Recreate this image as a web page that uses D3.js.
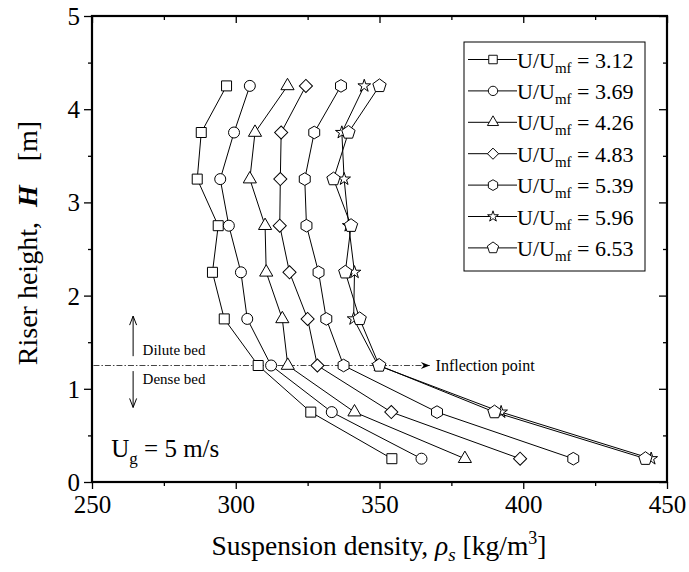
<!DOCTYPE html>
<html>
<head>
<meta charset="utf-8">
<script src="https://cdn.jsdelivr.net/npm/d3@7"></script>
<style>
	body { margin: 0; background: #fff; }
	text { font-family: "Liberation Serif", "DejaVu Serif", serif; fill: #000; }
</style>
</head>
<body>
<div id="wrapper"></div>
<script>
// Data: riser height H [m] and suspension density [kg/m3] per U/Umf
const heights = [0.25, 0.75, 1.25, 1.75, 2.25, 2.75, 3.25, 3.75, 4.25]
const ratios = ['3.12', '3.69', '4.26', '4.83', '5.39', '5.96', '6.53']
const rho312 = [354.3, 326.1, 307.8, 296.0, 291.9, 293.9, 286.6, 288.0, 296.8]
const rho369 = [364.6, 333.4, 312.3, 304.0, 301.8, 297.6, 294.6, 299.4, 304.9]
const rho426 = [379.7, 341.3, 318.1, 316.2, 310.6, 310.2, 304.9, 306.7, 318.0]
const rho483 = [398.9, 354.1, 328.4, 325.0, 318.7, 315.3, 315.5, 315.8, 324.4]
const rho539 = [417.4, 370.0, 337.5, 331.5, 328.8, 324.6, 324.0, 327.3, 336.6]
const rho596 = [444.5, 392.3, 349.5, 341.0, 341.3, 339.3, 337.7, 336.9, 344.7]
const rho653 = [442.5, 390.0, 349.9, 343.1, 338.1, 340.1, 334.0, 339.2, 350.0]
const seriesValues = [rho312, rho369, rho426, rho483, rho539, rho596, rho653]
const markerNames = ['square', 'circle', 'triangle', 'diamond', 'hexagon', 'star', 'pentagon']
const xTicks = [250, 300, 350, 400, 450]
const xMinorTicks = [275, 325, 375, 425]
const yTicks = [0, 1, 2, 3, 4, 5]
const yMinorTicks = [0.5, 1.5, 2.5, 3.5, 4.5]

function drawPlot() {
	const xAccessor = d => d.rho
	const yAccessor = d => d.h

	let dimensions = {
		width: 689,
		height: 572,
		margin: { top: 16, right: 22, bottom: 90, left: 92 }
	}
	dimensions.boundedWidth = dimensions.width - dimensions.margin.left - dimensions.margin.right
	dimensions.boundedHeight = dimensions.height - dimensions.margin.top - dimensions.margin.bottom

	const wrapper = d3.select('#wrapper')
		.append('svg')
			.attr('width', dimensions.width)
			.attr('height', dimensions.height)

	const bounds = wrapper.append('g')
		.attr('transform', `translate(${dimensions.margin.left},${dimensions.margin.top})`)

	// Scales
	const xScale = d3.scaleLinear()
		.domain([250, 450])
		.range([0, dimensions.boundedWidth])
	const yScale = d3.scaleLinear()
		.domain([0, 5])
		.range([dimensions.boundedHeight, 0])

	// Marker shapes
	const polygon = (n, r) => {
		const pts = d3.range(n).map(i => {
			const a = -Math.PI / 2 + i * 2 * Math.PI / n
			return [r * Math.cos(a), r * Math.sin(a)]
		})
		return d3.line()(pts) + 'Z'
	}
	const shapes = {
		square: d3.symbol(d3.symbolSquare, 100)(),
		circle: d3.symbol(d3.symbolCircle, 95)(),
		triangle: d3.symbol(d3.symbolTriangle, 75)(),
		diamond: d3.symbol(d3.symbolSquare, 86)(),
		hexagon: polygon(6, 6.3),
		star: d3.symbol(d3.symbolStar, 50)(),
		pentagon: polygon(5, 7)
	}
	const shapeRotate = name => name === 'diamond' ? ' rotate(45)' : ''

	// Axes: ticks all point down / left like the original
	const axisStyle = g => {
		g.select('.domain').remove()
		g.selectAll('line').attr('stroke', '#000').attr('stroke-width', 1.3)
		g.selectAll('text').attr('font-size', 25)
	}
	const xMajor = (showLabels) => d3.axisBottom(xScale).tickValues(xTicks).tickSize(7).tickPadding(3)
		.tickFormat(showLabels ? d3.format('d') : '')
	const xMinor = d3.axisBottom(xScale).tickValues(xMinorTicks).tickSize(4).tickFormat('')
	const yMajor = (showLabels) => d3.axisLeft(yScale).tickValues(yTicks).tickSize(8).tickPadding(4)
		.tickFormat(showLabels ? d3.format('d') : '')
	const yMinor = d3.axisLeft(yScale).tickValues(yMinorTicks).tickSize(4).tickFormat('')

	const xAxis = bounds.append('g').attr('transform', `translate(0,${dimensions.boundedHeight})`).call(xMajor(true)).call(axisStyle)
	bounds.append('g').attr('transform', `translate(0,${dimensions.boundedHeight})`).call(xMinor).call(axisStyle)
	bounds.append('g').call(xMajor(false)).call(axisStyle)
	bounds.append('g').call(xMinor).call(axisStyle)
	const yAxis = bounds.append('g').call(yMajor(true)).call(axisStyle)
	bounds.append('g').call(yMinor).call(axisStyle)
	bounds.append('g').attr('transform', `translate(${dimensions.boundedWidth},0)`).call(yMajor(false)).call(axisStyle)
	bounds.append('g').attr('transform', `translate(${dimensions.boundedWidth},0)`).call(yMinor).call(axisStyle)

	xAxis.selectAll('.tick text').attr('dy', null).attr('y', 31)
	yAxis.selectAll('.tick text').attr('dy', '0.34em')

	// Frame
	bounds.append('rect')
		.attr('width', dimensions.boundedWidth)
		.attr('height', dimensions.boundedHeight)
		.attr('fill', 'none')
		.attr('stroke', '#000')
		.attr('stroke-width', 2.2)

	// Annotation: dilute / dense bed and inflection point
	const defs = wrapper.append('defs')
	defs.append('marker')
		.attr('id', 'openArrow')
		.attr('viewBox', '-10 -5 12 10')
		.attr('markerWidth', 12).attr('markerHeight', 10)
		.attr('markerUnits', 'userSpaceOnUse')
		.attr('orient', 'auto')
		.append('path')
			.attr('d', 'M-9,-3.5L0,0L-9,3.5')
			.attr('fill', 'none')
			.attr('stroke', '#000')
			.attr('stroke-width', 1)
	defs.append('marker')
		.attr('id', 'inflArrow')
		.attr('viewBox', '-10 -5 12 10')
		.attr('markerWidth', 12).attr('markerHeight', 10)
		.attr('markerUnits', 'userSpaceOnUse')
		.attr('orient', 'auto')
		.append('path')
			.attr('d', 'M-9,-3.5L0,0L-9,3.5L-6,0Z')
			.attr('fill', '#000')

	bounds.append('line')
		.attr('x1', xScale(250.5)).attr('x2', xScale(367.5))
		.attr('y1', yScale(1.25)).attr('y2', yScale(1.25))
		.attr('stroke', '#444')
		.attr('stroke-width', 1)
		.attr('stroke-dasharray', '6,2,1.5,2')
		.attr('marker-end', 'url(#inflArrow)')
	bounds.append('text')
		.attr('x', xScale(369.5)).attr('y', yScale(1.25) + 5)
		.attr('font-size', 16)
		.text('Inflection point')

	bounds.append('line')
		.attr('x1', xScale(264.3)).attr('x2', xScale(264.3))
		.attr('y1', yScale(1.35)).attr('y2', yScale(1.78))
		.attr('stroke', '#000').attr('stroke-width', 1)
		.attr('marker-end', 'url(#openArrow)')
	bounds.append('line')
		.attr('x1', xScale(264.3)).attr('x2', xScale(264.3))
		.attr('y1', yScale(1.19)).attr('y2', yScale(0.8))
		.attr('stroke', '#000').attr('stroke-width', 1)
		.attr('marker-end', 'url(#openArrow)')
	bounds.append('text')
		.attr('x', xScale(267.6)).attr('y', yScale(1.36))
		.attr('font-size', 15)
		.text('Dilute bed')
	bounds.append('text')
		.attr('x', xScale(267.6)).attr('y', yScale(1.05))
		.attr('font-size', 15)
		.text('Dense bed')

	const ugLabel = bounds.append('text')
		.attr('x', xScale(256.7)).attr('y', yScale(0.27))
		.attr('font-size', 25)
	ugLabel.append('tspan').text('U')
	ugLabel.append('tspan').attr('font-size', 17).attr('dy', 7).text('g')
	ugLabel.append('tspan').attr('dy', -7).text(' = 5 m/s')

	// Series
	const lineGenerator = d3.line()
		.x(d => xScale(xAccessor(d)))
		.y(d => yScale(yAccessor(d)))

	seriesValues.forEach((vals, i) => {
		const data = vals.map((v, j) => ({ rho: v, h: heights[j] }))
		const g = bounds.append('g')
		g.append('path')
			.datum(data)
			.attr('d', lineGenerator)
			.attr('fill', 'none')
			.attr('stroke', '#000')
			.attr('stroke-width', 1)
		g.selectAll('path.pt')
			.data(data)
			.join('path')
				.attr('class', 'pt')
				.attr('d', shapes[markerNames[i]])
				.attr('transform', d => `translate(${xScale(xAccessor(d))},${yScale(yAccessor(d))})` + shapeRotate(markerNames[i]))
				.attr('fill', '#fff')
				.attr('stroke', '#000')
				.attr('stroke-width', 1)
	})

	// Legend
	const legend = wrapper.append('g')
		.attr('transform', 'translate(464,42)')
	const rowStep = 31.4
	legend.append('rect')
		.attr('width', 181)
		.attr('height', 229)
		.attr('fill', '#fff')
		.attr('stroke', '#000')
		.attr('stroke-width', 1)
	ratios.forEach((r, i) => {
		const row = legend.append('g')
			.attr('transform', `translate(0,${17.5 + i * rowStep})`)
		row.append('line')
			.attr('x1', 4).attr('x2', 53)
			.attr('stroke', '#000').attr('stroke-width', 1)
		row.append('path')
			.attr('d', shapes[markerNames[i]])
			.attr('transform', 'translate(29,0) scale(0.85)' + shapeRotate(markerNames[i]))
			.attr('fill', '#fff')
			.attr('stroke', '#000')
			.attr('stroke-width', 1.1)
		const t = row.append('text')
			.attr('x', 53).attr('y', 8)
			.attr('font-size', 22)
		t.append('tspan').text('U/U')
		t.append('tspan').attr('font-size', 15).attr('dy', 5).text('mf')
		t.append('tspan').attr('dy', -5).text(' = ' + r)
	})

	// Axis titles
	const xTitle = wrapper.append('text')
		.attr('x', 379)
		.attr('y', 555)
		.attr('text-anchor', 'middle')
		.attr('font-size', 27.5)
	xTitle.append('tspan').text('Suspension density, ')
	xTitle.append('tspan').attr('font-style', 'italic').text('ρ')
	xTitle.append('tspan').attr('font-style', 'italic').attr('font-size', 19).attr('dy', 6).text('s')
	xTitle.append('tspan').attr('dy', -6).text(' [kg/m')
	xTitle.append('tspan').attr('font-size', 18).attr('dy', -11).text('3')
	xTitle.append('tspan').attr('dy', 11).text(']')

	const yTitle = wrapper.append('text')
		.attr('transform', 'translate(37,243) rotate(-90)')
		.attr('text-anchor', 'middle')
		.attr('font-size', 28)
	yTitle.append('tspan').text('Riser height,')
	yTitle.append('tspan').attr('dx', 15).attr('font-style', 'italic').attr('font-weight', 'bold').text('H')
	yTitle.append('tspan').attr('dx', 24).text('[m]')
}
drawPlot()
</script>
</body>
</html>
